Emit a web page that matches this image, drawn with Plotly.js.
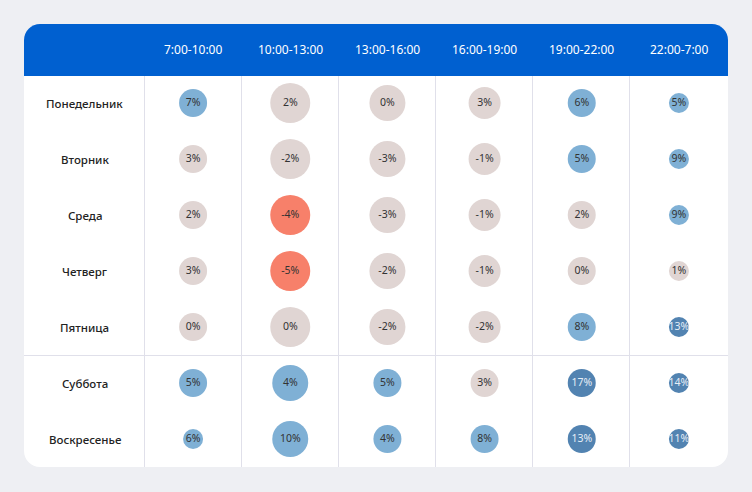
<!DOCTYPE html>
<html><head><meta charset="utf-8">
<script src="https://cdn.plot.ly/plotly-3.0.1.min.js"></script>
<style>html,body{margin:0;padding:0;background:#eeeff3;}#chart{width:752px;height:492px;}</style>
</head><body><div id="chart"></div>
<script>
// ---- data ----
const slots = ["7:00-10:00","10:00-13:00","13:00-16:00","16:00-19:00","19:00-22:00","22:00-7:00"];
const days = ["Понедельник","Вторник","Среда","Четверг","Пятница","Суббота","Воскресенье"];
// change, % (rows = days, cols = slots)
const changeMon = [7, 2, 0, 3, 6, 5];
const changeTue = [3, -2, -3, -1, 5, 9];
const changeWed = [2, -4, -3, -1, 2, 9];
const changeThu = [3, -5, -2, -1, 0, 1];
const changeFri = [0, 0, -2, -2, 8, 13];
const changeSat = [5, 4, 5, 3, 17, 14];
const changeSun = [6, 10, 4, 8, 13, 11];
// relative volume (bubble weight)
const weightMon = [7, 10, 9, 8, 7, 5];
const weightTue = [7, 10, 9, 8, 7, 5];
const weightWed = [7, 10, 9, 8, 7, 5];
const weightThu = [7, 10, 9, 8, 7, 5];
const weightFri = [7, 10, 9, 8, 7, 5];
const weightSat = [7, 9, 7, 7, 7, 5];
const weightSun = [5, 9, 7, 7, 7, 5];

const changes = [changeMon, changeTue, changeWed, changeThu, changeFri, changeSat, changeSun];
const weights = [weightMon, weightTue, weightWed, weightThu, weightFri, weightSat, weightSun];

// ---- styling ----
const W = 752, H = 492;
const px = x => x / W, py = y => 1 - y / H;
function colorFor(v){
  if (v <= -4) return "#f7806a";
  if (v >= 11) return "#5283b1";
  if (v >= 4) return "#7fb0d5";
  return "#e0d5d3";
}
function textColorFor(v){ return v >= 11 ? "#e6eef7" : "#333333"; }

const xs=[], ys=[], txt=[], sz=[], col=[], tcol=[];
days.forEach((d,i)=>{
  slots.forEach((s,j)=>{
    const v = changes[i][j];
    xs.push(s); ys.push(d); txt.push(v + "%");
    sz.push(weights[i][j]*4); col.push(colorFor(v)); tcol.push(textColorFor(v));
  });
});

const trace = {
  type:"scatter", mode:"markers+text", x:xs, y:ys, text:txt,
  textposition:"middle center",
  textfont:{family:"Noto Sans, sans-serif", size:10.5, color:tcol},
  marker:{size:sz, color:col, line:{width:0}, opacity:1},
  hoverinfo:"skip", cliponaxis:false
};

// rounded rectangle path in paper coords
function rr(x0,y0,x1,y1,rt,rb){
  const k=0.45;
  return "M"+px(x0+rt)+","+py(y0)+
    " L"+px(x1-rt)+","+py(y0)+
    " C"+px(x1-rt*k)+","+py(y0)+" "+px(x1)+","+py(y0+rt*k)+" "+px(x1)+","+py(y0+rt)+
    " L"+px(x1)+","+py(y1-rb)+
    " C"+px(x1)+","+py(y1-rb*k)+" "+px(x1-rb*k)+","+py(y1)+" "+px(x1-rb)+","+py(y1)+
    " L"+px(x0+rb)+","+py(y1)+
    " C"+px(x0+rb*k)+","+py(y1)+" "+px(x0)+","+py(y1-rb*k)+" "+px(x0)+","+py(y1-rb)+
    " L"+px(x0)+","+py(y0+rt)+
    " C"+px(x0)+","+py(y0+rt*k)+" "+px(x0+rt*k)+","+py(y0)+" "+px(x0+rt)+","+py(y0)+" Z";
}

const gridCol = "#e0e0ea";
const shapes = [
  {type:"path", xref:"paper", yref:"paper", path:rr(24,24,728,467,16,16), fillcolor:"#ffffff", line:{width:0}, layer:"below"},
  {type:"path", xref:"paper", yref:"paper", path:rr(24,24,728,76,16,0), fillcolor:"#0060d0", line:{width:0}, layer:"below"},
  {type:"line", xref:"paper", yref:"paper", x0:px(24), x1:px(728), y0:py(355.5), y1:py(355.5), line:{color:gridCol, width:1}, layer:"below"}
];
[144.5, 241.5, 338.5, 435.5, 532.5, 629.5].forEach(x=>{
  shapes.push({type:"line", xref:"paper", yref:"paper", x0:px(x), x1:px(x), y0:py(76), y1:py(467), line:{color:gridCol, width:1}, layer:"below"});
});

const annotations = [];
slots.forEach(s=>annotations.push({x:s, y:py(49), xref:"x", yref:"paper", text:s, showarrow:false,
  font:{family:"Noto Sans, sans-serif", size:12, color:"#ffffff"}, xanchor:"center", yanchor:"middle"}));
days.forEach(d=>annotations.push({x:px(84.5), y:d, xref:"paper", yref:"y", text:d, showarrow:false,
  font:{family:"Noto Sans, sans-serif", size:11.5, color:"#222222", weight:500}, xanchor:"center", yanchor:"middle"}));

const layout = {
  width:W, height:H, margin:{l:0,r:0,t:0,b:0},
  paper_bgcolor:"#eeeff3", plot_bgcolor:"rgba(0,0,0,0)",
  showlegend:false,
  xaxis:{type:"category", categoryarray:slots, domain:[px(144.5), px(727.5)], range:[-0.5,5.5],
    showgrid:false, zeroline:false, showticklabels:false, showline:false, fixedrange:true},
  yaxis:{type:"category", categoryarray:days, domain:[py(467), py(75)], range:[6.5,-0.5],
    showgrid:false, zeroline:false, showticklabels:false, showline:false, fixedrange:true},
  shapes:shapes, annotations:annotations
};
Plotly.newPlot("chart",[trace],layout,{displayModeBar:false, staticPlot:true});
</script></body></html>
